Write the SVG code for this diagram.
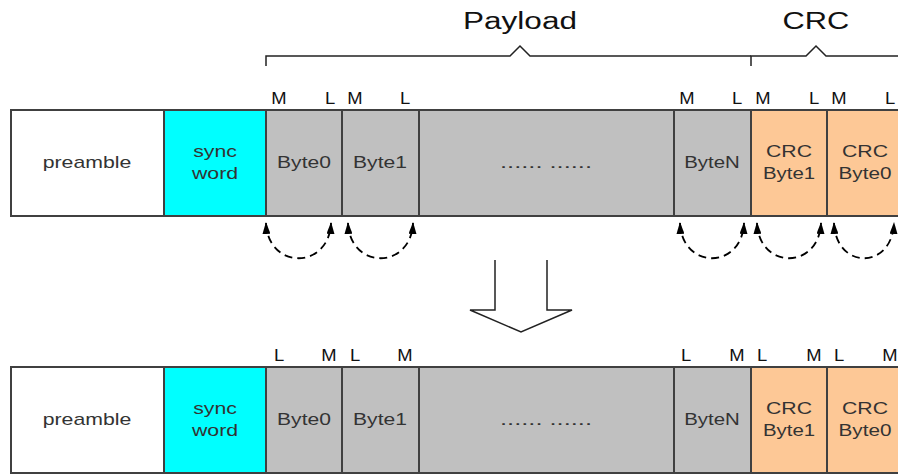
<svg xmlns="http://www.w3.org/2000/svg" width="898" height="475" viewBox="0 0 898 475">
<defs>
<marker id="ah" viewBox="0 0 12 8" refX="11" refY="4" markerWidth="12" markerHeight="8" markerUnits="userSpaceOnUse" orient="auto-start-reverse">
<path d="M0,0 L12,4 L0,8 Z" fill="#000"/>
</marker>
<style>
.box{stroke:#404040;stroke-width:2}
.w{fill:#fff}.c{fill:#00ffff}.g{fill:#c0c0c0}.o{fill:#fdc896}
.t{font-family:"Liberation Sans",Arial,sans-serif;font-size:17px;fill:#333;text-anchor:middle}
.ml{font-family:"Liberation Sans",Arial,sans-serif;font-size:16px;fill:#111;text-anchor:middle}
.big{font-family:"Liberation Sans",Arial,sans-serif;font-size:23px;fill:#111;text-anchor:middle}
.arc{fill:none;stroke:#000;stroke-width:1.8;stroke-dasharray:8,5}
.ln{fill:none;stroke:#222;stroke-width:1.5}
</style>
</defs>
<rect width="898" height="475" fill="#fff"/>

<!-- Top row -->
<g id="top-preamble"><rect class="box w" x="11" y="110" width="153" height="106"/><text class="t" transform="translate(87,168) scale(1.25,1)">preamble</text></g>
<g id="top-sync"><rect class="box c" x="164" y="110" width="102" height="106"/><text class="t" transform="translate(215,157) scale(1.25,1)">sync</text><text class="t" transform="translate(215,179) scale(1.25,1)">word</text></g>
<g id="top-byte0"><rect class="box g" x="266" y="110" width="76" height="106"/><text class="t" transform="translate(304,168) scale(1.24,1)">Byte0</text></g>
<g id="top-byte1"><rect class="box g" x="342" y="110" width="77" height="106"/><text class="t" transform="translate(380,168) scale(1.24,1)">Byte1</text></g>
<g id="top-dots"><rect class="box g" x="419" y="110" width="255" height="106"/><text class="t" transform="translate(546,168) scale(1.5,1)">...... ......</text></g>
<g id="top-byten"><rect class="box g" x="674" y="110" width="77" height="106"/><text class="t" transform="translate(712,168) scale(1.2,1)">ByteN</text></g>
<g id="top-crc1"><rect class="box o" x="751" y="110" width="76" height="106"/><text class="t" transform="translate(789,157) scale(1.25,1)">CRC</text><text class="t" transform="translate(789,179) scale(1.2,1)">Byte1</text></g>
<g id="top-crc0"><rect class="box o" x="827" y="110" width="80" height="106"/><text class="t" transform="translate(865,157) scale(1.25,1)">CRC</text><text class="t" transform="translate(865,179) scale(1.22,1)">Byte0</text></g>

<!-- Bottom row -->
<g id="bot-preamble"><rect class="box w" x="11" y="367" width="153" height="106"/><text class="t" transform="translate(87,425) scale(1.25,1)">preamble</text></g>
<g id="bot-sync"><rect class="box c" x="164" y="367" width="102" height="106"/><text class="t" transform="translate(215,414) scale(1.25,1)">sync</text><text class="t" transform="translate(215,436) scale(1.25,1)">word</text></g>
<g id="bot-byte0"><rect class="box g" x="266" y="367" width="76" height="106"/><text class="t" transform="translate(304,425) scale(1.24,1)">Byte0</text></g>
<g id="bot-byte1"><rect class="box g" x="342" y="367" width="77" height="106"/><text class="t" transform="translate(380,425) scale(1.24,1)">Byte1</text></g>
<g id="bot-dots"><rect class="box g" x="419" y="367" width="255" height="106"/><text class="t" transform="translate(546,425) scale(1.5,1)">...... ......</text></g>
<g id="bot-byten"><rect class="box g" x="674" y="367" width="77" height="106"/><text class="t" transform="translate(712,425) scale(1.2,1)">ByteN</text></g>
<g id="bot-crc1"><rect class="box o" x="751" y="367" width="76" height="106"/><text class="t" transform="translate(789,414) scale(1.25,1)">CRC</text><text class="t" transform="translate(789,436) scale(1.2,1)">Byte1</text></g>
<g id="bot-crc0"><rect class="box o" x="827" y="367" width="80" height="106"/><text class="t" transform="translate(865,414) scale(1.25,1)">CRC</text><text class="t" transform="translate(865,436) scale(1.22,1)">Byte0</text></g>

<!-- M/L labels -->
<g id="top-labels">
<text class="ml" transform="translate(279,104) scale(1.15,1)">M</text><text class="ml" transform="translate(330,104) scale(1.15,1)">L</text>
<text class="ml" transform="translate(355,104) scale(1.15,1)">M</text><text class="ml" transform="translate(405,104) scale(1.15,1)">L</text>
<text class="ml" transform="translate(687,104) scale(1.15,1)">M</text><text class="ml" transform="translate(737,104) scale(1.15,1)">L</text>
<text class="ml" transform="translate(763,104) scale(1.15,1)">M</text><text class="ml" transform="translate(814,104) scale(1.15,1)">L</text>
<text class="ml" transform="translate(839,104) scale(1.15,1)">M</text><text class="ml" transform="translate(890,104) scale(1.15,1)">L</text>
</g>
<g id="bot-labels">
<text class="ml" transform="translate(279,361) scale(1.15,1)">L</text><text class="ml" transform="translate(329,361) scale(1.15,1)">M</text>
<text class="ml" transform="translate(355,361) scale(1.15,1)">L</text><text class="ml" transform="translate(405,361) scale(1.15,1)">M</text>
<text class="ml" transform="translate(686,361) scale(1.15,1)">L</text><text class="ml" transform="translate(737,361) scale(1.15,1)">M</text>
<text class="ml" transform="translate(762,361) scale(1.15,1)">L</text><text class="ml" transform="translate(814,361) scale(1.15,1)">M</text>
<text class="ml" transform="translate(839,361) scale(1.15,1)">L</text><text class="ml" transform="translate(890,361) scale(1.15,1)">M</text>
</g>

<!-- Braces -->
<g id="payload-brace">
<path class="ln" d="M266,66 V56 H510 L520,46 L530,56 H751"/>
<text class="big" transform="translate(520,29) scale(1.37,1)">Payload</text>
</g>
<g id="crc-brace">
<path class="ln" d="M751,66 V56 H806 L816,46 L826,56 H900"/>
<text class="big" transform="translate(816,29) scale(1.34,1)">CRC</text>
</g>

<!-- Connectors -->
<g id="connectors">
<path class="arc" marker-start="url(#ah)" marker-end="url(#ah)" d="M266,223 C268,270 329,270 331,223"/>
<path class="arc" marker-start="url(#ah)" marker-end="url(#ah)" d="M348,223 C350,270 411,270 413,223"/>
<path class="arc" marker-start="url(#ah)" marker-end="url(#ah)" d="M680,223 C682,270 742,270 744,223"/>
<path class="arc" marker-start="url(#ah)" marker-end="url(#ah)" d="M757,223 C759,270 819,270 821,223"/>
<path class="arc" marker-start="url(#ah)" marker-end="url(#ah)" d="M834,223 C836,270 892,270 894,223"/>
</g>

<!-- Big down arrow -->
<g id="down-arrow">
<path fill="#fff" stroke="#222" stroke-width="1.5" d="M495,260 V310 H470 L521,332 L572,310 H547 V260"/>
</g>
</svg>
